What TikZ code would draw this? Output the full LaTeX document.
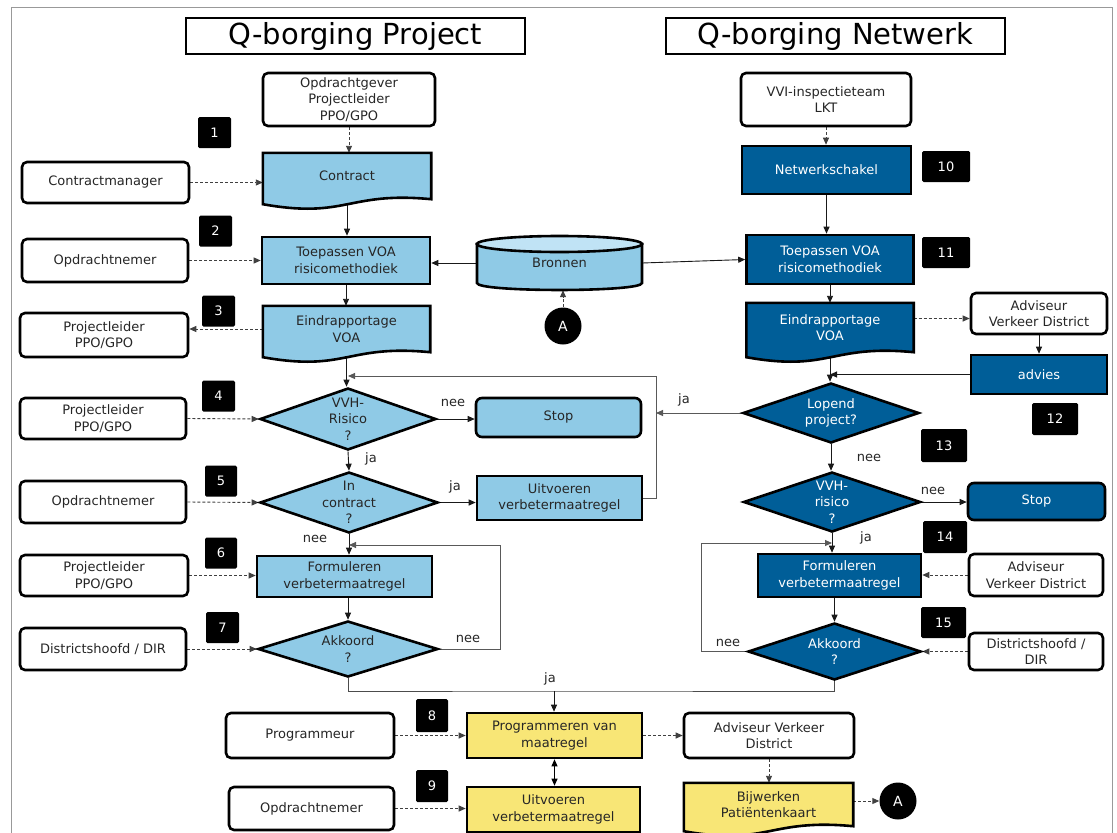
\documentclass[tikz,border=0pt]{standalone}
\usepackage{fontspec}
\setmainfont{DejaVu Sans}
\usetikzlibrary{arrows.meta,shapes.geometric,calc}
\pgfdeclarelayer{lines}
\pgfdeclarelayer{shapes}
\pgfsetlayers{lines,shapes,main}

\definecolor{lblue}{RGB}{143,202,230}
\definecolor{lbluetop}{RGB}{192,227,245}
\definecolor{dblue}{RGB}{0,94,152}
\definecolor{yel}{RGB}{248,230,118}

% document shape (wavy bottom) drawn behind the text node of the same name
\newcommand\docshape[2]{%
  \begin{pgfonlayer}{shapes}
    \path[draw=black, line width=2.6pt, fill=#2]
      (#1.north west) -- (#1.north east) -- (#1.south east)
      .. controls ($(#1.south)+(0,-8)$) and ($(#1.south)+(0,20)$) ..
      ($(#1.south west)+(0,5)$) -- cycle;
  \end{pgfonlayer}}

\begin{document}
\begin{tikzpicture}[x=1pt,y=-1pt,
  sz/.style 2 args={minimum width=#1pt, minimum height=#2pt},
  txt/.style={font=\fontsize{13}{16.5}\selectfont, text=black!85},
  boxbase/.style={txt, align=center, inner sep=0pt, line width=2.6pt, draw=black},
  who/.style={boxbase, rounded corners=5pt, fill=white},
  lproc/.style={boxbase, fill=lblue},
  dproc/.style={boxbase, fill=dblue, text=white},
  yproc/.style={boxbase, fill=yel},
  titlebox/.style={draw=black, line width=2.6pt, inner sep=0pt, fill=white,
    font=\fontsize{29}{32}\selectfont, minimum width=339pt, minimum height=36pt},
  docnode/.style={txt, align=center, inner sep=0pt},
  decision/.style={diamond, draw=black, line width=2.6pt, inner sep=0pt},
  dtext/.style={txt, align=center, inner sep=0pt},
  badge/.style={fill=black, rounded corners=1.5pt, text=white, inner sep=0pt,
    font=\fontsize{13}{15}\selectfont, minimum height=31pt},
  conncircle/.style={circle, fill=black, text=white, inner sep=0pt,
    minimum size=37pt, font=\fontsize{14}{16}\selectfont},
  lab/.style={txt, inner sep=0pt},
  flow/.style={-{Triangle[length=7pt,width=6pt]}, line width=0.9pt, draw=black!90},
  plain/.style={line width=0.9pt, draw=black!70},
  backline/.style={flow, draw=black!65},
  roleline/.style={flow, dash pattern=on 3pt off 2pt, draw=black!75},
]
\begin{pgfonlayer}{lines}
  \fill[white] (0,0) rectangle (1117,833);
\end{pgfonlayer}
\useasboundingbox (0,0) rectangle (1117,833);
\draw[black!40, line width=1pt] (11,7) rectangle (1112,860);

% ---------------- Q-borging Project ----------------
\node[titlebox] (title1) at (355.5,36) {Q-borging Project};
\node[who, sz={172}{53}] (opg) at (349,99.5) {Opdrachtgever\\Projectleider\\PPO/GPO};
\node[badge, minimum width=33pt] (b1) at (214.5,132.5) {1};
\node[docnode, sz={168}{46}] (contract) at (347,176) {Contract};
\docshape{contract}{lblue}
\node[who, sz={167}{41}] (cm) at (105.5,182.5) {Contractmanager};
\node[badge, minimum width=33pt] (b2) at (215.5,231) {2};
\node[who, sz={166}{43}] (on2) at (105,260.5) {Opdrachtnemer};
\node[lproc, sz={168}{47}] (toepL) at (346,260.5) {Toepassen VOA\\risicomethodiek};

% Bronnen cylinder
\node[docnode, sz={165}{54}] (bron) at (559.5,263) {Bronnen};
\begin{pgfonlayer}{shapes}
  \path[draw=black, line width=2.6pt, fill=lblue]
    (477,244) -- (477,283) .. controls (477,292.3) and (642,292.3) .. (642,283)
    -- (642,244) -- cycle;
  \path[draw=black, line width=2.6pt, fill=lbluetop]
    (559.5,244) ellipse [x radius=82.5, y radius=8];
\end{pgfonlayer}
\node[conncircle] (A1) at (563,326) {A};

\node[badge, minimum width=33pt] (b3) at (218.5,311) {3};
\node[who, sz={168}{44}] (pl3) at (104,335) {Projectleider\\PPO/GPO};
\node[docnode, sz={167}{46}] (eindL) at (346.5,329) {Eindrapportage\\VOA};
\docshape{eindL}{lblue}

\node[badge, minimum width=33pt] (b4) at (218.5,396) {4};
\node[who, sz={166}{41}] (pl4) at (103,418.5) {Projectleider\\PPO/GPO};
\node[decision, fill=lblue, sz={176}{62}] (dVVH) at (348,419) {};
\node[dtext] (dVVHt) at (dVVH) {VVH-\\Risico\\?};
\node[lproc, rounded corners=6pt, sz={165}{39}] (stopL) at (558.5,417.5) {Stop};

\node[badge, minimum width=32pt] (b5) at (221,481) {5};
\node[who, sz={166}{42}] (on5) at (103,502) {Opdrachtnemer};
\node[decision, fill=lblue, sz={178}{61}] (dIn) at (349,502.5) {};
\node[dtext] (dInt) at (dIn) {In\\contract\\?};
\node[lproc, sz={165}{44}] (uitL) at (559.5,498) {Uitvoeren\\verbetermaatregel};

\node[badge, minimum width=32pt] (b6) at (221,553) {6};
\node[who, sz={168}{41}] (pl6) at (104,575.5) {Projectleider\\PPO/GPO};
\node[lproc, sz={175}{41}] (formL) at (344.5,576.5) {Formuleren\\verbetermaatregel};

\node[badge, minimum width=33pt] (b7) at (222.5,627.5) {7};
\node[who, sz={166}{42}] (dh7) at (103,649) {Districtshoofd / DIR};
\node[decision, fill=lblue, sz={180}{56}] (akL) at (348,649) {};
\node[dtext] (akLt) at (akL) {Akkoord\\?};

% ---------------- bottom row ----------------
\node[badge, minimum width=32pt, minimum height=33pt] (b8) at (432,715.5) {8};
\node[who, sz={168}{45}] (prog) at (310,735.5) {Programmeur};
\node[yproc, sz={175}{45}] (progm) at (554.5,735.5) {Programmeren van\\maatregel};
\node[badge, minimum width=32pt, minimum height=32pt] (b9) at (432,786) {9};
\node[who, sz={165}{43}] (on9) at (311.5,808.5) {Opdrachtnemer};
\node[yproc, sz={173}{45}] (uitY) at (553.5,809.5) {Uitvoeren\\verbetermaatregel};
\node[who, sz={170}{45}] (avd3) at (769,735.5) {Adviseur Verkeer\\District};
\node[docnode, sz={169}{43}] (bijw) at (768.5,804.5) {Bijwerken\\Patiëntenkaart};
\docshape{bijw}{yel}
\node[conncircle] (A2) at (898,801) {A};

% ---------------- Q-borging Netwerk ----------------
\node[titlebox] (title2) at (835.5,36) {Q-borging Netwerk};
\node[who, sz={170}{53}] (vvi) at (826,99.5) {VVI-inspectieteam\\LKT};
\node[dproc, sz={169}{48}] (netw) at (826.5,170) {Netwerkschakel};
\node[badge, minimum width=48pt] (b10) at (946,166.5) {10};
\node[dproc, sz={167}{49}] (toepR) at (830,259.5) {Toepassen VOA\\risicomethodiek};
\node[badge, minimum width=48pt] (b11) at (946,252.5) {11};
\node[docnode, text=white, sz={167}{49}] (eindR) at (830,327.5) {Eindrapportage\\VOA};
\docshape{eindR}{dblue}
\node[who, sz={136}{41}] (avd1) at (1039,313.5) {Adviseur\\Verkeer District};
\node[dproc, sz={136}{39}] (advies) at (1039,374.5) {advies};
\node[decision, fill=dblue, sz={176}{60}] (dLop) at (831,413) {};
\node[dtext, text=white] (dLopt) at (dLop) {Lopend\\project?};
\node[badge, minimum width=46pt, minimum height=32pt] (b12) at (1055,419) {12};
\node[badge, minimum width=46pt, minimum height=33pt] (b13) at (944,445.5) {13};
\node[decision, fill=dblue, sz={177}{60}] (dVVHR) at (832,502) {};
\node[dtext, text=white] (dVVHRt) at (dVVHR) {VVH-\\risico\\?};
\node[dproc, rounded corners=6pt, sz={137}{37}] (stopR) at (1036.5,501.5) {Stop};
\node[badge, minimum width=44pt, minimum height=32pt] (b14) at (945,537) {14};
\node[dproc, sz={163}{43}] (formR) at (839.5,575.5) {Formuleren\\verbetermaatregel};
\node[who, sz={134}{42}] (avd2) at (1036,575) {Adviseur\\Verkeer District};
\node[decision, fill=dblue, sz={173}{57}] (akR) at (834.5,651.5) {};
\node[dtext, text=white] (akRt) at (akR) {Akkoord\\?};
\node[badge, minimum width=45pt] (b15) at (943.5,622.5) {15};
\node[who, sz={134}{37}] (dh15) at (1036,651.5) {Districtshoofd /\\DIR};

% branch labels
\node[lab] (l1) at (453,403) {nee};
\node[lab] (l2) at (371,459) {ja};
\node[lab] (l3) at (455,487) {ja};
\node[lab] (l4) at (315,539) {nee};
\node[lab] (l5) at (468,639) {nee};
\node[lab] (l6) at (550,679) {ja};
\node[lab] (l7) at (684,400) {ja};
\node[lab] (l8) at (869,458) {nee};
\node[lab] (l9) at (933,491) {nee};
\node[lab] (l10) at (866,538) {ja};
\node[lab] (l11) at (728,643) {nee};

% route points of the return lines
\coordinate (lpA) at (656,376);
\coordinate (lpB) at (500,545);
\coordinate (lpC) at (701,543);
\coordinate (jrow) at (554,691);
\coordinate (eRout) at ($(eindR.east)+(0,-9)$);

\begin{pgfonlayer}{lines}
  % project side
  \draw[roleline] (opg.south) -- (opg.south |- contract.north);
  \draw[roleline] (cm.east) -- (cm.east -| contract.west);
  \draw[flow] (contract.south) -- (contract.south |- toepL.north);
  \draw[roleline] (on2.east) -- (on2.east -| toepL.west);
  \draw[flow] (bron.west) -- (bron.west -| toepL.east);
  \draw[flow] (bron.east) -- (toepR.west);
  \draw[roleline] (A1.north) -- (A1.north |- bron.south);
  \draw[flow] (toepL.south) -- (toepL.south |- eindL.north);
  \draw[roleline] (eindL.west) -- (eindL.west -| pl3.east);
  \draw[flow] (eindL.south) -- (eindL.south |- dVVH.north);
  \draw[roleline] (pl4.east) -- (dVVH.west);
  \draw[flow] (dVVH.east) -- (dVVH.east -| stopL.west);
  \draw[flow] (dVVH.south) -- (dIn.north);
  \draw[roleline] (on5.east) -- (dIn.west);
  \draw[flow] (dIn.east) -- (dIn.east -| uitL.west);
  \draw[backline] (uitL.east) -| (lpA) -- (lpA -| dVVH.north);
  \draw[backline] (dLop.west) -- (dLop.west -| lpA);
  \draw[flow] (dIn.south) -- (dIn.south |- formL.north);
  \draw[roleline] (pl6.east) -- (pl6.east -| formL.west);
  \draw[flow] (formL.south -| akL.north) -- (akL.north);
  \draw[roleline] (dh7.east) -- (akL.west);
  \draw[backline] (akL.east) -| (lpB) -- (lpB -| dIn.south);
  \draw[plain] (akL.south) |- (jrow) -| (akR.south);
  \draw[flow] (jrow) -- (jrow |- progm.north);
  % execution row
  \draw[roleline] (prog.east) -- (progm.west);
  \draw[{Triangle[length=7pt,width=6pt]}-{Triangle[length=7pt,width=6pt]}, line width=0.9pt]
    (progm.south) -- (progm.south |- uitY.north);
  \draw[roleline] (on9.east) -- (on9.east -| uitY.west);
  \draw[roleline] (progm.east) -- (avd3.west);
  \draw[roleline] (avd3.south) -- (avd3.south |- bijw.north);
  \draw[roleline] (bijw.east |- A2.west) -- (A2.west);
  % network side
  \draw[roleline] (vvi.south) -- (vvi.south |- netw.north);
  \draw[flow] (netw.south) -- (netw.south |- toepR.north);
  \draw[flow] (toepR.south) -- (toepR.south |- eindR.north);
  \draw[roleline] (eRout) -- (eRout -| avd1.west);
  \draw[flow] (avd1.south -| advies.north) -- (advies.north);
  \draw[flow] (advies.west) -- (advies.west -| eindR.south);
  \draw[flow] (eindR.south) -- (eindR.south |- dLop.north);
  \draw[flow] (dLop.south) -- (dLop.south |- dVVHR.north);
  \draw[flow] (dVVHR.east) -- (dVVHR.east -| stopR.west);
  \draw[flow] (dVVHR.south) -- (dVVHR.south |- formR.north);
  \draw[roleline] (avd2.west) -- (avd2.west -| formR.east);
  \draw[flow] (formR.south -| akR.north) -- (akR.north);
  \draw[roleline] (dh15.west) -- (akR.east);
  \draw[backline] (akR.west) -| (lpC) -- (lpC -| dVVHR.south);
\end{pgfonlayer}
\end{tikzpicture}
\end{document}
